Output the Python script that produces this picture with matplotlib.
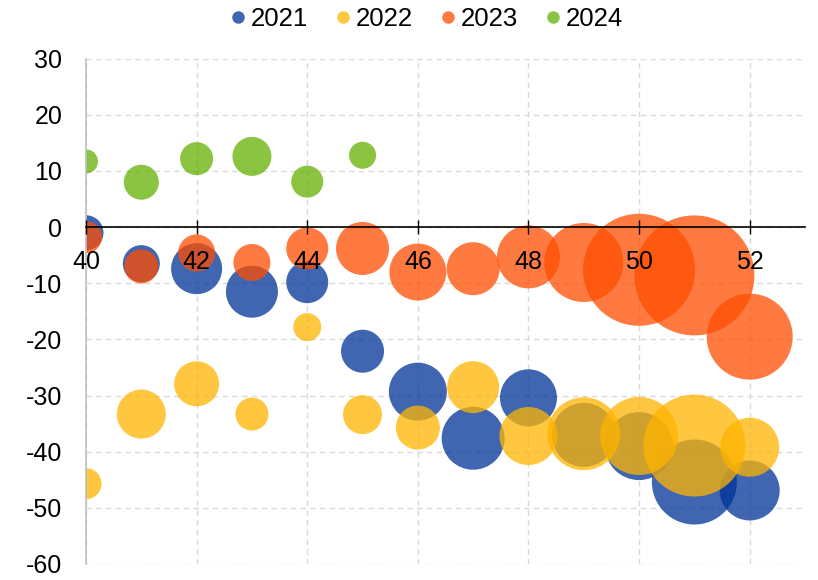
import numpy as np
import matplotlib
matplotlib.use("Agg")
from matplotlib import pyplot as plt
from matplotlib.lines import Line2D

plt.rcParams["font.family"] = ["Liberation Sans", "DejaVu Sans"]

# bubble charts: x position, y value, bubble diameter (px)
years = ["2021", "2022", "2023", "2024"]

x_21 = [40, 41, 42, 43, 44, 45, 46, 47, 48, 49, 50, 51, 52]
y_21 = [-1.0, -6.5, -7.4, -11.5, -9.8, -22.1, -29.3, -37.6, -30.4, -37.0, -39.0, -45.4, -46.9]
b_21 = [35, 37, 51, 52, 42, 43, 58, 63, 57, 64, 68, 85, 60]

x_22 = [40, 41, 42, 43, 44, 45, 46, 47, 48, 49, 50, 51, 52]
y_22 = [-45.7, -33.3, -27.9, -33.3, -17.8, -33.4, -35.7, -28.5, -37.2, -36.8, -37.2, -38.9, -39.2]
b_22 = [31, 49, 45, 33, 28, 39, 44, 52, 58, 73, 78, 102, 59]

x_23 = [40, 41, 42, 43, 44, 45, 46, 47, 48, 49, 50, 51, 52]
y_23 = [-1.8, -7.0, -4.6, -6.3, -3.8, -3.8, -8.0, -7.4, -5.3, -6.3, -7.6, -8.6, -19.5]
b_23 = [32, 34, 37, 37, 42, 53, 57, 53, 63, 79, 112, 120, 86]

x_24 = [40, 41, 42, 43, 44, 45]
y_24 = [11.7, 8.0, 12.2, 12.6, 8.1, 12.8]
b_24 = [24, 35, 33, 39, 32, 27]

colors = ["#003399", "#FFB400", "#FF4D00", "#64B000"]
alpha = 0.75

x_ticks = np.arange(40, 53, 2)
y_ticks = np.arange(-60, 31, 10)

dpi = 100
fig = plt.figure(figsize=(8.18, 5.8), dpi=dpi)
ax = fig.add_axes([86/818, 1 - 564/580, (805 - 86)/818, (564 - 58.7)/580])

# dashed grid under the bubbles, axis labels above them
for xv in x_ticks:
    ax.axvline(xv, color="#D9D9D9", linestyle=(0, (4, 3)), linewidth=1, zorder=0.5)
for yv in y_ticks:
    ax.axhline(yv, color="#D9D9D9", linestyle=(0, (4, 3)), linewidth=1, zorder=0.5)

series = [(x_21, y_21, b_21), (x_22, y_22, b_22), (x_23, y_23, b_23), (x_24, y_24, b_24)]
for (xs, ys, bs), col in zip(series, colors):
    s = (np.array(bs) * 72 / dpi) ** 2
    ax.scatter(xs, ys, s=s, color=col, alpha=alpha, linewidths=0, zorder=1.5)

ax.set_xlim(40, 53)
ax.set_ylim(-60, 30)
ax.set_xticks(x_ticks)
ax.set_yticks(y_ticks)
ax.set_xticklabels([str(v) for v in x_ticks])
ax.set_yticklabels([str(v) for v in y_ticks])
ax.set_axisbelow(False)

ax.spines["right"].set_visible(False)
ax.spines["top"].set_visible(False)
ax.spines["left"].set_color("#BFBFBF")
ax.spines["left"].set_linewidth(1.2)
ax.spines["bottom"].set_position(("data", 0))
ax.spines["bottom"].set_color("black")
ax.spines["bottom"].set_linewidth(1.2)

ax.tick_params(axis="x", direction="inout", length=10, width=1, color="black",
               pad=11.5, labelsize=18)
ax.tick_params(axis="y", length=0, pad=17, labelsize=18)

handles = [Line2D([], [], marker="o", linestyle="none", markersize=9,
                  markerfacecolor=c, markeredgewidth=0, alpha=alpha) for c in colors]
fig.legend(handles, years, loc="center", bbox_to_anchor=(0.52, 1 - 19/580),
           ncol=4, frameon=False, fontsize=18.5, handletextpad=0.1,
           columnspacing=0.95, handlelength=0.8)

fig.savefig("out.png", dpi=dpi)
